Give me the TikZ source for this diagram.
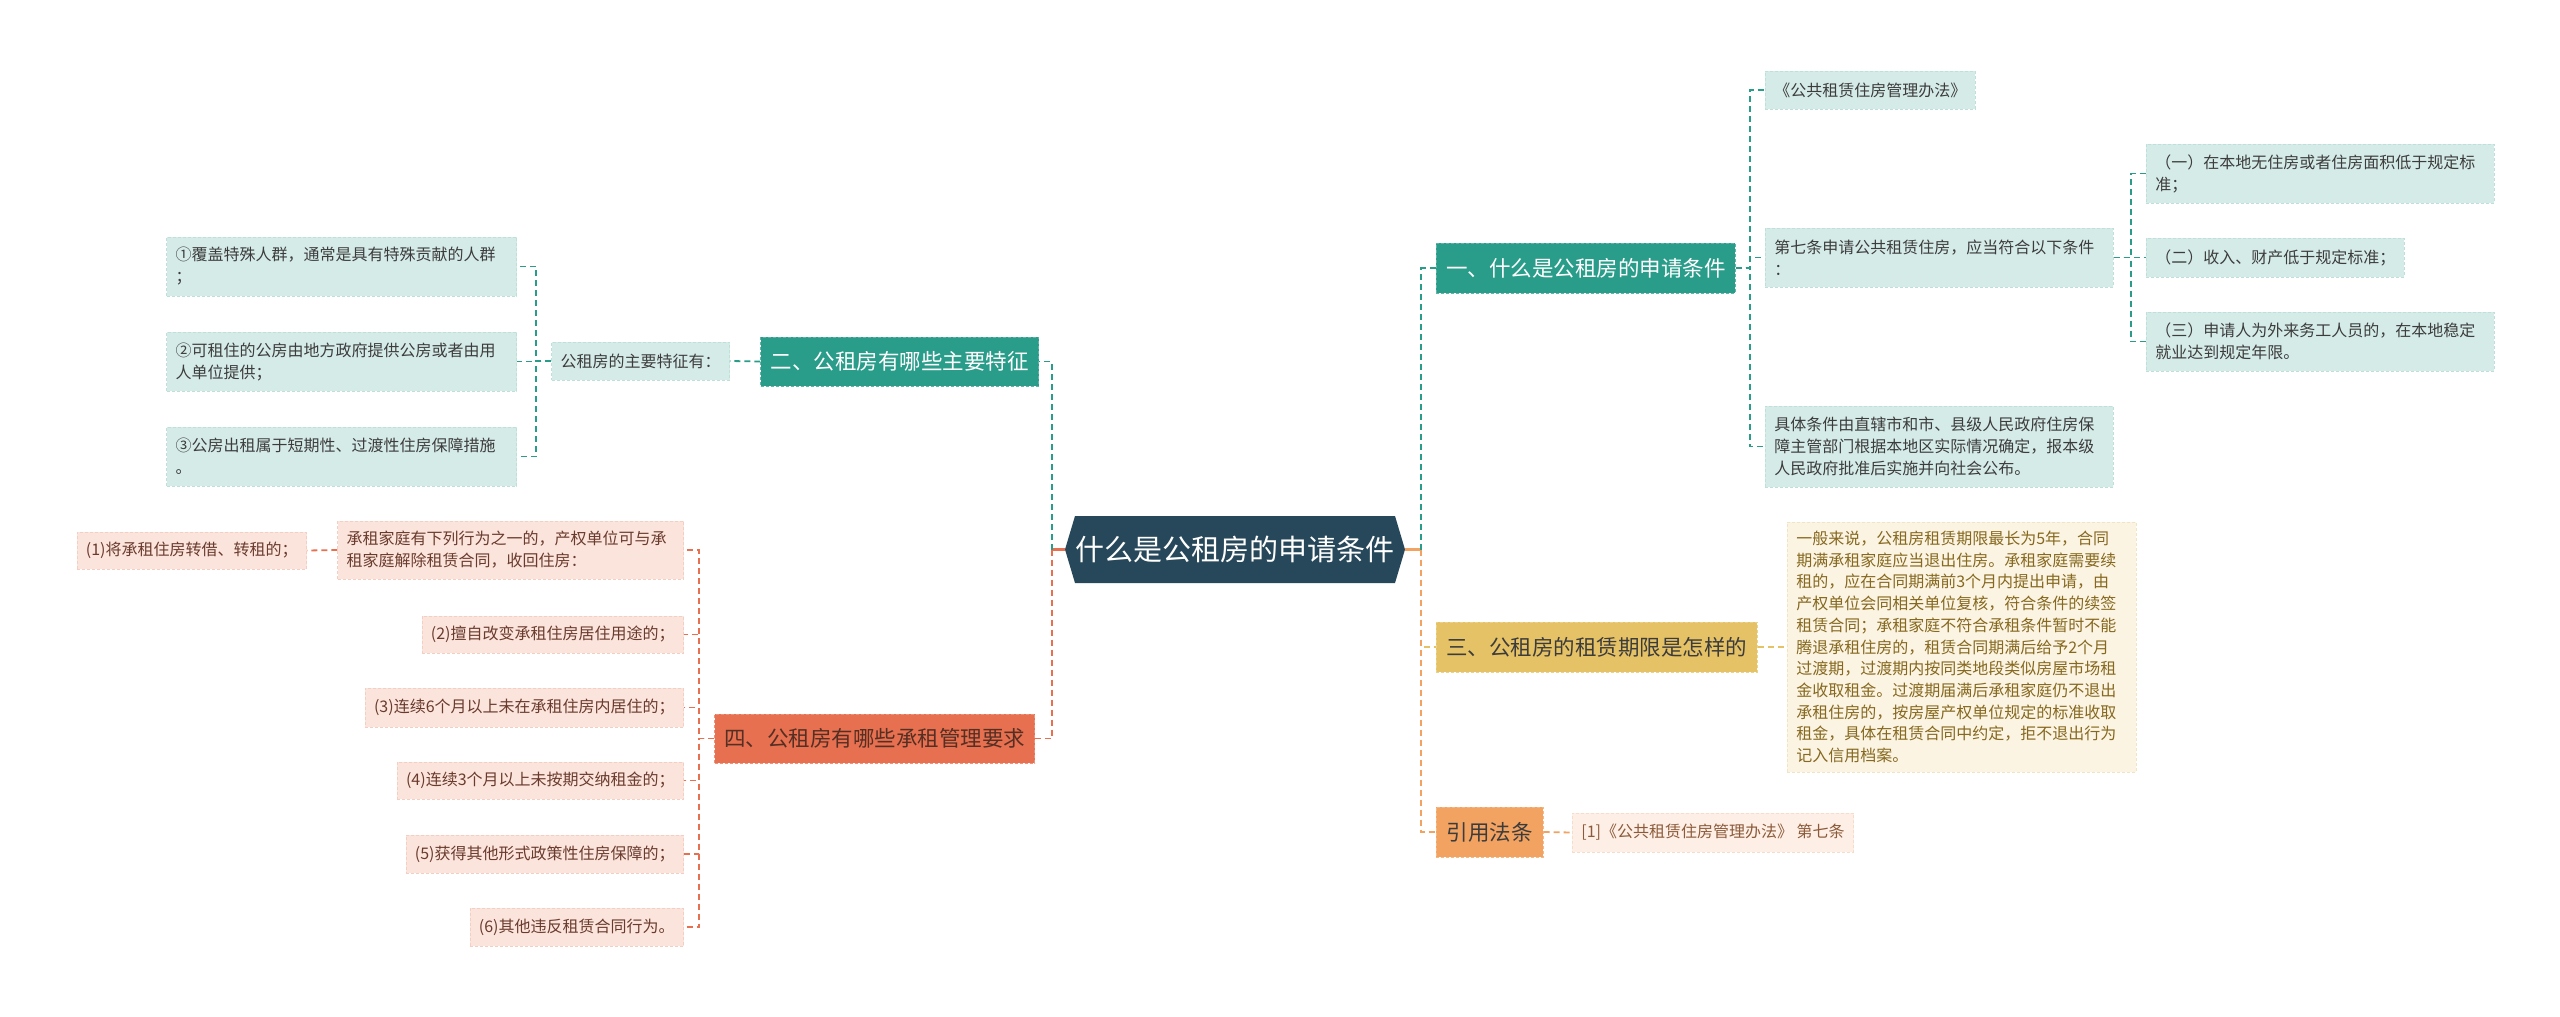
\documentclass[tikz,border=0pt]{standalone}
\usepackage{fontspec}
\setmainfont{Noto Sans CJK SC}
\usetikzlibrary{calc}
\definecolor{rootc}{HTML}{27485A}
\definecolor{tealc}{HTML}{2A9D8A}
\definecolor{tleaf}{HTML}{D5EBE8}
\definecolor{tleafd}{HTML}{BFDFDA}
\definecolor{goldc}{HTML}{E6C266}
\definecolor{gleaf}{HTML}{FBF4E3}
\definecolor{gleafd}{HTML}{F0E4C4}
\definecolor{gtext}{HTML}{86681E}
\definecolor{redc}{HTML}{E6704F}
\definecolor{rleaf}{HTML}{FBE4DC}
\definecolor{rleafd}{HTML}{F3CFC3}
\definecolor{rtext}{HTML}{6A3B2D}
\definecolor{orc}{HTML}{F2A261}
\definecolor{oleaf}{HTML}{FDEFE6}
\definecolor{oleafd}{HTML}{F6DCCB}
\definecolor{otext}{HTML}{8C5A3A}
\definecolor{ltext}{HTML}{3C3C3C}
\tikzset{
  box/.style={inner xsep=9pt, inner ysep=0pt, align=left, dash pattern=on 3pt off 2pt, line width=0.7pt},
  leafT/.style={box, fill=tleaf, draw=tleafd, text=ltext, font=\fontsize{16}{22}\selectfont},
  leafG/.style={box, fill=gleaf, draw=gleafd, text=gtext, font=\fontsize{16}{21.7}\selectfont},
  leafR/.style={box, fill=rleaf, draw=rleafd, text=rtext, font=\fontsize{16}{22}\selectfont},
  leafO/.style={box, fill=oleaf, draw=oleafd, text=otext, font=\fontsize{16}{22}\selectfont},
  brT/.style={box, align=center, fill=tealc, draw=tealc!75!white, text=white, font=\fontsize{21.5}{26}\selectfont},
  brG/.style={box, align=center, fill=goldc, draw=goldc!75!white, text=ltext, font=\fontsize{21.5}{26}\selectfont},
  brR/.style={box, align=center, fill=redc, draw=redc!75!white, text=rtext!80!black, font=\fontsize{21.5}{26}\selectfont},
  brO/.style={box, align=center, fill=orc, draw=orc!75!white, text=ltext, font=\fontsize{21.5}{26}\selectfont},
  conn/.style={line width=1.8pt, dash pattern=on 6pt off 4pt},
  cT/.style={conn, draw=tealc},
  cG/.style={conn, draw=goldc},
  cR/.style={conn, draw=redc},
  cO/.style={conn, draw=orc}
}
\begin{document}
\begin{tikzpicture}[x=1pt, y=-1pt]
\useasboundingbox (0,0) rectangle (2560,1017);
\fill[white] (0,0) rectangle (2560,1017);

% root
\fill[rootc] (1065,549.5) -- (1075,516) -- (1395,516) -- (1405,549.5) -- (1395,583) -- (1075,583) -- cycle;
\node[minimum width=340pt, minimum height=67pt, inner sep=0pt, text=white, font=\fontsize{29}{34}\selectfont] (root) at (1235,549.5) {什么是公租房的申请条件};
\coordinate (tr) at (1421,549.5);
\coordinate (tl) at (1052,549.5);

% right branches
\node[brT, anchor=west, minimum width=299pt, minimum height=50pt] (b1) at (1436,268) {一、什么是公租房的申请条件};
\node[brG, anchor=west, minimum width=321pt, minimum height=50pt] (b3) at (1436,647) {三、公租房的租赁期限是怎样的};
\node[brO, anchor=west, minimum width=107pt, minimum height=50pt] (b5) at (1436,832) {引用法条};

\node[leafT, anchor=west, minimum height=38pt] (c11) at (1765,90) {《公共租赁住房管理办法》};
\node[leafT, anchor=west, text width=330pt, minimum height=59pt] (c12) at (1765,257.5) {第七条申请公共租赁住房，应当符合以下条件\\：};
\node[leafT, anchor=west, text width=330pt, minimum height=81pt] (c13) at (1765,446.5) {具体条件由直辖市和市、县级人民政府住房保\\障主管部门根据本地区实际情况确定，报本级\\人民政府批准后实施并向社会公布。};
\node[leafT, anchor=west, text width=330pt, minimum height=59pt] (g1) at (2146,173.5) {（一）在本地无住房或者住房面积低于规定标\\准；};
\node[leafT, anchor=west, minimum height=39pt] (g2) at (2146,257.5) {（二）收入、财产低于规定标准；};
\node[leafT, anchor=west, text width=330pt, minimum height=59pt] (g3) at (2146,341.5) {（三）申请人为外来务工人员的，在本地稳定\\就业达到规定年限。};

\node[leafG, anchor=west, text width=331pt, minimum height=250pt] (c31) at (1787,647) {一般来说，公租房租赁期限最长为5年，合同\\期满承租家庭应当退出住房。承租家庭需要续\\租的，应在合同期满前3个月内提出申请，由\\产权单位会同相关单位复核，符合条件的续签\\租赁合同；承租家庭不符合承租条件暂时不能\\腾退承租住房的，租赁合同期满后给予2个月\\过渡期，过渡期内按同类地段类似房屋市场租\\金收取租金。过渡期届满后承租家庭仍不退出\\承租住房的，按房屋产权单位规定的标准收取\\租金，具体在租赁合同中约定，拒不退出行为\\记入信用档案。};

\node[leafO, anchor=west, minimum height=39pt] (c51) at (1572,832.5) {[1]《公共租赁住房管理办法》 第七条};

% left branches
\node[brT, anchor=east, minimum width=278pt, minimum height=49pt] (b2) at (1039,361.5) {二、公租房有哪些主要特征};
\node[leafT, anchor=east, minimum height=38pt] (c21) at (730,361) {公租房的主要特征有：};
\node[leafT, anchor=east, text width=332pt, minimum height=59pt] (l1) at (517,266.5) {①覆盖特殊人群，通常是具有特殊贡献的人群\\；};
\node[leafT, anchor=east, text width=332pt, minimum height=59pt] (l2) at (517,361.5) {②可租住的公房由地方政府提供公房或者由用\\人单位提供；};
\node[leafT, anchor=east, text width=332pt, minimum height=59pt] (l3) at (517,456.5) {③公房出租属于短期性、过渡性住房保障措施\\。};

\node[brR, anchor=east, minimum width=320pt, minimum height=49pt] (b4) at (1035,738.5) {四、公租房有哪些承租管理要求};
\node[leafR, anchor=east, text width=328pt, minimum height=58pt] (c41) at (684,550) {承租家庭有下列行为之一的，产权单位可与承\\租家庭解除租赁合同，收回住房：};
\node[leafR, anchor=east, minimum height=37pt] (c4a) at (307,550.5) {(1)将承租住房转借、转租的；};
\node[leafR, anchor=east, minimum height=37pt] (c42) at (684,634.5) {(2)擅自改变承租住房居住用途的；};
\node[leafR, anchor=east, minimum height=39pt] (c43) at (684,707.5) {(3)连续6个月以上未在承租住房内居住的；};
\node[leafR, anchor=east, minimum height=37pt] (c44) at (684,780.5) {(4)连续3个月以上未按期交纳租金的；};
\node[leafR, anchor=east, minimum height=38pt] (c45) at (684,854) {(5)获得其他形式政策性住房保障的；};
\node[leafR, anchor=east, minimum height=38pt] (c46) at (684,927) {(6)其他违反租赁合同行为。};

% connectors right
\draw[line width=2.5pt, orc] (root.east) -- (tr);
\draw[cG] (tr) |- (b3.west);
\draw[cO] (tr) |- (b5.west);
\draw[cT] (tr) |- (b1.west);
\draw[cT] (b1.east) -- ++(14,0) |- (c11.west);
\draw[cT] (b1.east) -- ++(14,0) |- (c12.west);
\draw[cT] (b1.east) -- ++(14,0) |- (c13.west);
\draw[cT] (c12.east) -- ++(17,0) |- (g1.west);
\draw[cT] (c12.east) -- ++(17,0) |- (g2.west);
\draw[cT] (c12.east) -- ++(17,0) |- (g3.west);
\draw[cG] (b3.east) -- (c31.west);
\draw[cO] (b5.east) -- (c51.west);

% connectors left
\draw[line width=2.5pt, redc] (root.west) -- (tl);
\draw[cR] (tl) |- (b4.east);
\draw[cT] (tl) |- (b2.east);
\draw[cT] (b2.west) -- (c21.east);
\draw[cT] (c21.west) -- ++(-15,0) |- (l1.east);
\draw[cT] (c21.west) -- ++(-15,0) |- (l2.east);
\draw[cT] (c21.west) -- ++(-15,0) |- (l3.east);
\draw[cR] (b4.west) -- ++(-15,0) |- (c41.east);
\draw[cR] (b4.west) -- ++(-15,0) |- (c42.east);
\draw[cR] (b4.west) -- ++(-15,0) |- (c43.east);
\draw[cR] (b4.west) -- ++(-15,0) |- (c44.east);
\draw[cR] (b4.west) -- ++(-15,0) |- (c45.east);
\draw[cR] (b4.west) -- ++(-15,0) |- (c46.east);
\draw[cR] (c41.west) -- (c4a.east);
\end{tikzpicture}
\end{document}
